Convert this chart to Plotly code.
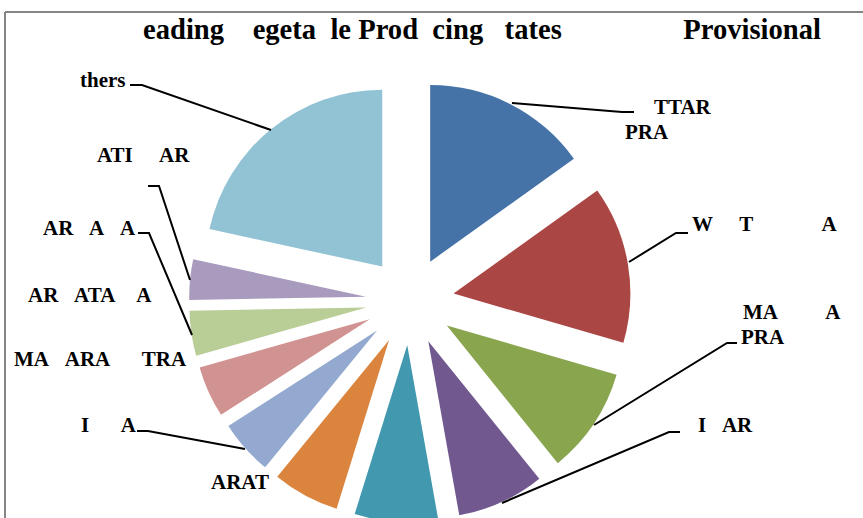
import plotly.graph_objects as go

NB = "\u00a0"
W, H = 863, 530          # figure is a little taller than the window; the pie runs off the bottom
MT, MB = 80, 8           # plot area spans y = 80 .. 522 (px)
PLOT_BOTTOM = H - MB
PLOT_H = H - MT - MB

# ---- data (share of production, %, clockwise from 12 o'clock) ----
slice_names = ["TTAR PRA", "W T A", "MA A PRA", "I AR", "", "ARAT", "I A",
               "MA ARA TRA", "AR A A", "ATI AR", "thers"]
slice_values = [15.1, 14.4, 9.7, 8.0, 7.6, 6.1, 5.0, 4.7, 4.1, 3.7, 21.6]
slice_colors = ["#4572A7", "#AA4643", "#89A54E", "#71588F", "#4198AF", "#DB843D",
                "#93A9CF", "#D19392", "#B9CD96", "#A99BBD", "#92C3D4"]

title_text = ("eading" + NB * 4 + "egeta" + NB * 2 + "le" + NB + "Prod" + NB * 2 +
              "cing" + NB * 3 + "tates" + NB * 17 + "Provisional")

label_texts = ["TTAR", "PRA",
               "W" + NB * 5 + "T" + NB * 13 + "A",
               "MA" + NB * 9 + "A", "PRA",
               "I" + NB * 3 + "AR",
               "ARAT",
               "I" + NB * 6 + "A",
               "MA" + NB * 3 + "ARA" + NB * 6 + "TRA",
               "AR" + NB * 3 + "ATA" + NB * 4 + "A",
               "AR" + NB * 3 + "A" + NB * 3 + "A",
               "ATI" + NB * 5 + "AR",
               "thers"]
# label placement (left x, centre y) in px
label_xy = [(652, 107), (623, 132), (690, 224), (741, 312), (739, 337), (696, 425),
            (209, 482), (79, 425), (12, 359), (26, 295), (41, 228), (95, 155), (78, 80)]

# leader lines (px)
leaders = [
    [(130, 85), (142, 85), (271, 130)],
    [(148, 186), (159, 186), (190, 280)],
    [(138, 233), (149, 233), (192, 335)],
    [(137, 431), (148, 431), (245, 449)],
    [(512, 103), (622, 112), (634, 112)],
    [(629, 262), (676, 233), (688, 233)],
    [(594, 425), (727, 343), (737, 343)],
    [(502, 503), (669, 432), (680, 432)],
]


def px(x):
    return x / W


def py(y):
    return (PLOT_BOTTOM - y) / PLOT_H


cx = 410
half = 221
fig = go.Figure(go.Pie(
    labels=slice_names,
    values=slice_values,
    sort=False,
    direction="clockwise",
    rotation=0,
    pull=[0.25] * len(slice_values),
    marker=dict(colors=slice_colors, line=dict(width=0)),
    textinfo="none",
    hoverinfo="label+percent",
    showlegend=False,
    domain=dict(x=[(cx - half) / W, (cx + half) / W], y=[0, 1]),
))

annotations = [dict(
    text=title_text, x=px(141), y=py(30), xref="paper", yref="paper",
    xanchor="left", yanchor="middle", showarrow=False,
    font=dict(family="Liberation Serif", size=28.6, color="#000000", weight="bold"),
)]
for t, (lx, ly) in zip(label_texts, label_xy):
    annotations.append(dict(
        text=t, x=px(lx), y=py(ly), xref="paper", yref="paper",
        xanchor="left", yanchor="middle", showarrow=False,
        font=dict(family="Liberation Serif", size=21, color="#000000", weight="bold"),
    ))

shapes = []
for pts in leaders:
    path = "M " + " L ".join(f"{px(x):.5f},{py(y):.5f}" for x, y in pts)
    shapes.append(dict(type="path", path=path, xref="paper", yref="paper",
                       line=dict(color="#000000", width=2)))
# chart frame (top and left edges visible)
shapes.append(dict(type="line", x0=px(5), x1=px(870), y0=py(12), y1=py(12),
                   xref="paper", yref="paper", line=dict(color="#868686", width=2)))
shapes.append(dict(type="line", x0=px(5), x1=px(5), y0=py(12), y1=py(540),
                   xref="paper", yref="paper", line=dict(color="#868686", width=2)))

fig.update_layout(
    width=W, height=H,
    margin=dict(l=0, r=0, t=MT, b=MB),
    paper_bgcolor="#FFFFFF", plot_bgcolor="#FFFFFF",
    annotations=annotations, shapes=shapes,
)

fig.write_html(
    "out.html",
    config={"displayModeBar": False},
    post_script=("document.documentElement.style.overflow='hidden';"
                 "document.body.style.margin='0';"
                 "document.body.style.overflow='hidden';"),
)
